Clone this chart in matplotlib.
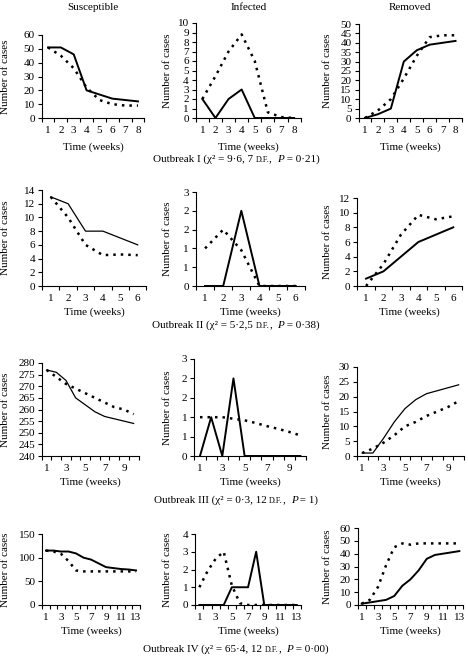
import matplotlib
matplotlib.use('Agg')
import matplotlib.pyplot as plt
from matplotlib.offsetbox import TextArea, HPacker, AnnotationBbox

plt.rcParams['font.family'] = ['Liberation Serif', 'DejaVu Serif']
plt.rcParams['font.size'] = 8

W, H = 468, 657

# ---- data (observed = solid, model = dotted) ----
weeks_1 = [1, 2, 3, 4, 5, 6, 7, 8]
xticks_1 = [1, 2, 3, 4, 5, 6, 7, 8]
sus_obs_1 = [51, 51, 46, 20, 17, 14, 13, 12]
sus_mod_1 = [51, 45, 36, 22, 13, 10, 9, 9]
inf_obs_1 = [2, 0, 2, 3, 0, 0, 0, 0]
inf_mod_1 = [2, 4.4, 7, 8.8, 6, 0.6, 0.1, 0]
rem_obs_1 = [0, 2, 5, 30, 36, 39, 40, 41]
rem_mod_1 = [0, 4, 10, 21, 33, 43, 44, 44]

weeks_2 = [1, 2, 3, 4, 5, 6]
xticks_2 = [1, 2, 3, 4, 5, 6]
sus_obs_2 = [13, 12, 8, 8, 7, 6]
sus_mod_2 = [13, 10, 6, 4.5, 4.6, 4.5]
inf_obs_2 = [0, 0, 2, 0, 0, 0]
inf_mod_2 = [1.0, 1.5, 0.95, 0, 0, 0]
rem_obs_2 = [1, 2, 4, 6, 7, 8]
rem_mod_2 = [0, 3, 7, 9.7, 9.1, 9.5]

weeks_3 = [1, 2, 3, 4, 5, 6, 7, 8, 9, 10]
xticks_3 = [1, 3, 5, 7, 9]
sus_obs_3 = [277, 276, 272.5, 265, 262, 259, 257, 256, 255, 254]
sus_mod_3 = [277, 274, 271, 269, 267, 265, 263, 261, 260, 258]
inf_obs_3 = [0, 1, 0, 2, 0, 0, 0, 0, 0, 0]
inf_mod_3 = [1.0, 1.0, 1.0, 0.96, 0.92, 0.85, 0.77, 0.7, 0.62, 0.53]
rem_obs_3 = [1, 1, 6, 11.5, 16, 19, 21, 22, 23, 24]
rem_mod_3 = [1, 2.5, 4.5, 7, 10, 11.5, 13.5, 15, 16.5, 18.5]

weeks_4 = [1, 2, 3, 4, 5, 6, 7, 8, 9, 10, 11, 12, 13]
xticks_4 = [1, 3, 5, 7, 9, 11, 13]
sus_obs_4 = [115, 115, 113, 113, 109, 100, 96, 88, 80, 78, 76, 75, 73]
sus_mod_4 = [115, 113, 108, 93, 73, 71, 71, 71, 71, 71, 71, 71, 71]
inf_obs_4 = [0, 0, 0, 0, 1, 1, 1, 3, 0, 0, 0, 0, 0]
inf_mod_4 = [1.0, 1.9, 2.6, 3.0, 1.1, 0.1, 0, 0, 0, 0, 0, 0, 0]
rem_obs_4 = [1, 2, 3, 4, 7, 15, 20, 27, 36, 39, 40, 41, 42]
rem_mod_4 = [1, 4, 14, 31, 45, 48, 47, 48, 48, 48, 48, 48, 48]

titles = ['Susceptible', 'Infected', 'Removed']
captions = [
    ('Outbreak I (χ² = 9·6, 7 ', '0·21'),
    ('Outbreak II (χ² = 5·2,5 ', '0·38'),
    ('Outbreak III (χ² = 0·3, 12 ', '1'),
    ('Outbreak IV (χ² = 65·4, 12 ', '0·00'),
]

half_ticks = [0, 0.5, 1, 1.5, 2, 2.5]
half_labels = ['0', '1', '1', '2', '2', '3']

rows = [
    (weeks_1, xticks_1, [
        (sus_obs_1, sus_mod_1, list(range(0, 61, 10)), None),
        (inf_obs_1, inf_mod_1, list(range(0, 11)), None),
        (rem_obs_1, rem_mod_1, list(range(0, 51, 5)), None)]),
    (weeks_2, xticks_2, [
        (sus_obs_2, sus_mod_2, list(range(0, 15, 2)), None),
        (inf_obs_2, inf_mod_2, half_ticks, half_labels),
        (rem_obs_2, rem_mod_2, list(range(0, 13, 2)), None)]),
    (weeks_3, xticks_3, [
        (sus_obs_3, sus_mod_3, list(range(240, 281, 5)), None),
        (inf_obs_3, inf_mod_3, half_ticks, half_labels),
        (rem_obs_3, rem_mod_3, list(range(0, 31, 5)), None)]),
    (weeks_4, xticks_4, [
        (sus_obs_4, sus_mod_4, list(range(0, 151, 50)), None),
        (inf_obs_4, inf_mod_4, list(range(0, 5)), None),
        (rem_obs_4, rem_mod_4, list(range(0, 61, 10)), None)]),
]

# panel boxes in pixels: left, right, top, bottom
boxes = [
    [(41.6, 144.4, 35, 118), (195.8, 300.6, 23, 118), (358.5, 462, 24, 118)],
    [(42, 146.4, 190, 286), (196, 304.8, 192, 286), (357.3, 462, 198, 286)],
    [(41.8, 138.5, 363, 456), (194.4, 306, 359, 456), (356.8, 464, 367, 456)],
    [(42.2, 139.8, 534, 605), (195.3, 300.8, 534, 605), (357.6, 463.4, 528, 605)],
]
time_y = [147, 312, 482, 631]
caption_y = [159, 325, 500, 649]
ylabel_x = [6, 167, 328]
thin = {(1, 0), (2, 0), (2, 2)}

fig = plt.figure(figsize=(W / 100, H / 100), dpi=100)

for i, (weeks, xt, cols) in enumerate(rows):
    for j, (obs, mod, yt, ytl) in enumerate(cols):
        l, r, t, b = boxes[i][j]
        ax = fig.add_axes([l / W, 1 - b / H, (r - l) / W, (b - t) / H])
        ax.plot(weeks, mod, color='black', lw=1.8, linestyle=(0, (1, 2)))
        ax.plot(weeks, obs, color='black', lw=0.9 if (i, j) in thin else 1.4)
        ax.set_xlim(0.5, len(weeks) + 0.5)
        ax.set_ylim(yt[0], yt[-1])
        ax.set_yticks(yt)
        if ytl is not None:
            ax.set_yticklabels(ytl)
        ax.set_xticks(xt)
        ax.set_xticks([w + 0.5 for w in [0] + weeks], minor=True)
        ax.tick_params(axis='x', which='major', length=0, pad=6, labelsize=8)
        ax.tick_params(axis='x', which='minor', length=3, width=0.8, direction='out')
        ax.tick_params(axis='y', length=3, width=0.8, pad=2, labelsize=8)
        for s in ['top', 'right']:
            ax.spines[s].set_visible(False)
        for s in ['left', 'bottom']:
            ax.spines[s].set_linewidth(0.8)
        fig.text((l + r) / 2 / W, 1 - time_y[i] / H, 'Time (weeks)',
                 ha='center', va='center', fontsize=8)
        fig.text(ylabel_x[j] / W, 1 - (t + b) / 2 / H, 'Number of cases',
                 rotation=90, ha='center', va='center', fontsize=8)
        if i == 0:
            fig.text((l + r) / 2 / W, 1 - 8 / H, titles[j],
                     ha='center', va='center', fontsize=8)

    pre, p = captions[i]
    parts = [TextArea(pre, textprops=dict(size=8)),
             TextArea('D.F.', textprops=dict(size=5.8)),
             TextArea(',\u2009 ', textprops=dict(size=8, family=['Liberation Serif', 'DejaVu Serif'])),
             TextArea('P', textprops=dict(size=8, style='italic')),
             TextArea(' = ' + p + ')', textprops=dict(size=8))]
    box = HPacker(children=parts, align='baseline', pad=0, sep=0)
    ab = AnnotationBbox(box, (236 / W, 1 - caption_y[i] / H), xycoords='figure fraction',
                        frameon=False, box_alignment=(0.5, 0.5), pad=0)
    fig.add_artist(ab)

fig.savefig('out.png', dpi=100)
